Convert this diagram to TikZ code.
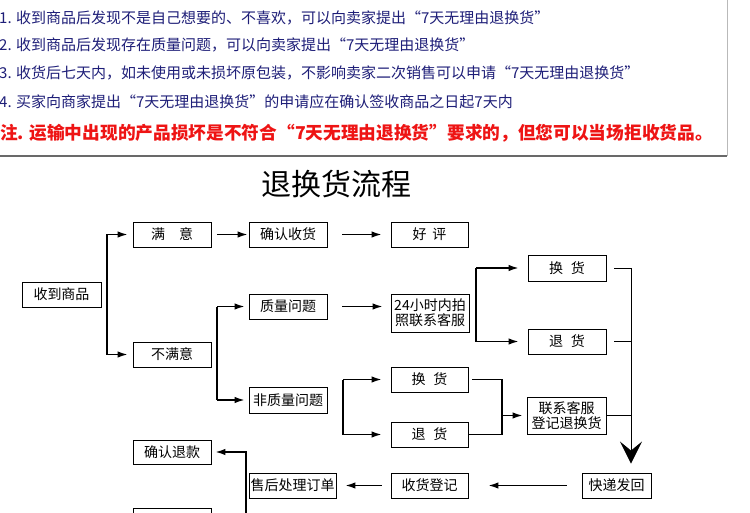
\documentclass[tikz,border=0pt]{standalone}
\usepackage{fontspec}
\setmainfont{Noto Sans CJK SC}
\usetikzlibrary{arrows.meta}
\definecolor{navy}{RGB}{30,30,120}
\definecolor{redtxt}{RGB}{238,20,20}
\definecolor{framegray}{RGB}{105,105,105}
\begin{document}
\begin{tikzpicture}[x=1pt,y=-1pt,
  box/.style={draw, line width=0.9pt, inner sep=0pt, minimum width=78pt, minimum height=25pt,
              font=\fontsize{14}{15}\selectfont, align=center},
  conn/.style={line width=1.4pt},
  arr/.style={conn, -{Latex[length=10pt,width=6.5pt]}},
  thinline/.style={line width=0.9pt},
  toptext/.style={anchor=west, inner sep=0pt, font=\fontsize{15}{15}\selectfont, text=navy}
]
\useasboundingbox (0,0) rectangle (750,513);
\clip (0,0) rectangle (750,513);
\fill[white] (0,0) rectangle (750,513);

% top frame
\draw[framegray, line width=1.5pt] (0,156) -- (727,156);
\draw[gray!55, line width=1pt] (727,0) -- (727,156);

% notes
\node[toptext] (l1) at (-1,18) {1. 收到商品后发现不是自己想要的、不喜欢，可以向卖家提出“7天无理由退换货”};
\node[toptext] (l2) at (-1,45) {2. 收到商品后发现存在质量问题，可以向卖家提出“7天无理由退换货”};
\node[toptext] (l3) at (-1,73) {3. 收货后七天内，如未使用或未损坏原包装，不影响卖家二次销售可以申请“7天无理由退换货”};
\node[toptext] (l4) at (-1,102) {4. 买家向商家提出“7天无理由退换货”的申请应在确认签收商品之日起7天内};
\node[anchor=west, inner sep=0pt, font=\fontsize{17.7}{17.7}\selectfont\bfseries, text=redtxt] (note) at (0,133)
  {注. 运输中出现的产品损坏是不符合“7天无理由退换货”要求的，但您可以当场拒收货品。};

% title
\node[font=\fontsize{30}{30}\selectfont] (title) at (336,184) {退换货流程};

% boxes
\node[box, minimum width=79pt] (recv) at (61.5,294.5) {收到商品};
\node[box] (sat) at (172,234.5) {满\hspace{14pt}意};
\node[box] (unsat) at (172,354.5) {不满意};
\node[box] (confirm) at (288,234.5) {确认收货};
\node[box, minimum width=77pt] (good) at (429.5,234.5) {好\hspace{6pt}评};
\node[box] (qual) at (288,306.5) {质量问题};
\node[box, minimum height=38pt] (photo) at (430,313) {24小时内拍\\照联系客服};
\node[box, minimum height=26pt] (nonq) at (288,400) {非质量问题};
\node[box, minimum height=26pt] (ex1) at (567,268) {换\hspace{8pt}货};
\node[box] (re1) at (567,341.5) {退\hspace{8pt}货};
\node[box, minimum width=77pt] (ex2) at (429.5,379.5) {换\hspace{8pt}货};
\node[box, minimum width=77pt] (re2) at (429.5,434.5) {退\hspace{8pt}货};
\node[box, minimum width=79pt, minimum height=37pt] (contact) at (566.5,415.5) {联系客服\\登记退换货};
\node[box, minimum width=69pt] (express) at (616.5,485.5) {快递发回};
\node[box, minimum width=77pt] (reg) at (429.5,485.5) {收货登记};
\node[box, minimum width=87pt] (after) at (292.5,485.5) {售后处理订单};
\node[box, minimum height=24pt] (refund) at (172,452) {确认退款};
\node[box] (ship) at (172,520.5) {换货发货};

% junction coordinates
\coordinate (j1) at (107,0);
\coordinate (j2) at (217,0);
\coordinate (j3) at (476,0);
\coordinate (j4) at (343,0);
\coordinate (j5) at (502,0);
\coordinate (jc) at (631,0);
\coordinate (j6) at (246,0);

% receive -> satisfied / unsatisfied
\draw[conn] (sat.west -| j1) -- (unsat.west -| j1);
\draw[arr, shorten >=5pt] (sat.west -| j1) -- (sat.west);
\draw[arr, shorten >=5pt] (unsat.west -| j1) -- (unsat.west);

% satisfied chain
\draw[arr, shorten <=6pt, shorten >=1pt] (sat) -- (confirm);
\draw[arr, shorten <=15pt, shorten >=9pt] (confirm) -- (good);

% unsatisfied -> quality / non-quality
\draw[conn] (qual.west -| j2) -- (nonq.west -| j2);
\draw[arr, shorten >=4pt] (qual.west -| j2) -- (qual.west);
\draw[arr, shorten >=4pt] (nonq.west -| j2) -- (nonq.west);

% quality chain
\draw[arr, shorten <=15pt, shorten >=8pt] (qual.east) -- (qual.east -| photo.west);
\draw[conn] (ex1.west -| j3) -- (re1.west -| j3);
\draw[arr, shorten >=9pt] (ex1.west -| j3) -- (ex1.west);
\draw[arr, shorten >=9pt] (re1.west -| j3) -- (re1.west);

% non-quality chain
\draw[conn] (ex2.west -| j4) -- (re2.west -| j4);
\draw[arr, shorten >=9pt] (ex2.west -| j4) -- (ex2.west);
\draw[arr, shorten >=9pt] (re2.west -| j4) -- (re2.west);
\draw[conn, shorten <=4pt] (ex2.east) -- (ex2.east -| j5) -- (re2.east -| j5) -- (re2.east);
\draw[arr, shorten >=4pt] (contact.west -| j5) -- (contact.west);

% collector to express
\draw[thinline, shorten <=8pt] (re1.east) -- (re1.east -| jc);
\draw[thinline] (contact.east) -- (contact.east -| jc);
\draw[thinline, shorten <=8pt, shorten >=9pt, -{Stealth[length=22pt,width=22pt,inset=9pt]}]
  (ex1.east) -- (ex1.east -| jc) -- (jc |- express.north);

% return chain
\draw[arr, shorten <=15pt, shorten >=20pt] (express) -- (reg);
\draw[arr, shorten <=9pt, shorten >=9pt] (reg) -- (after);
\draw[arr, shorten >=4pt] (j6 |- ship.east) -- (j6 |- refund.east) -- (refund.east);
\end{tikzpicture}
\end{document}
